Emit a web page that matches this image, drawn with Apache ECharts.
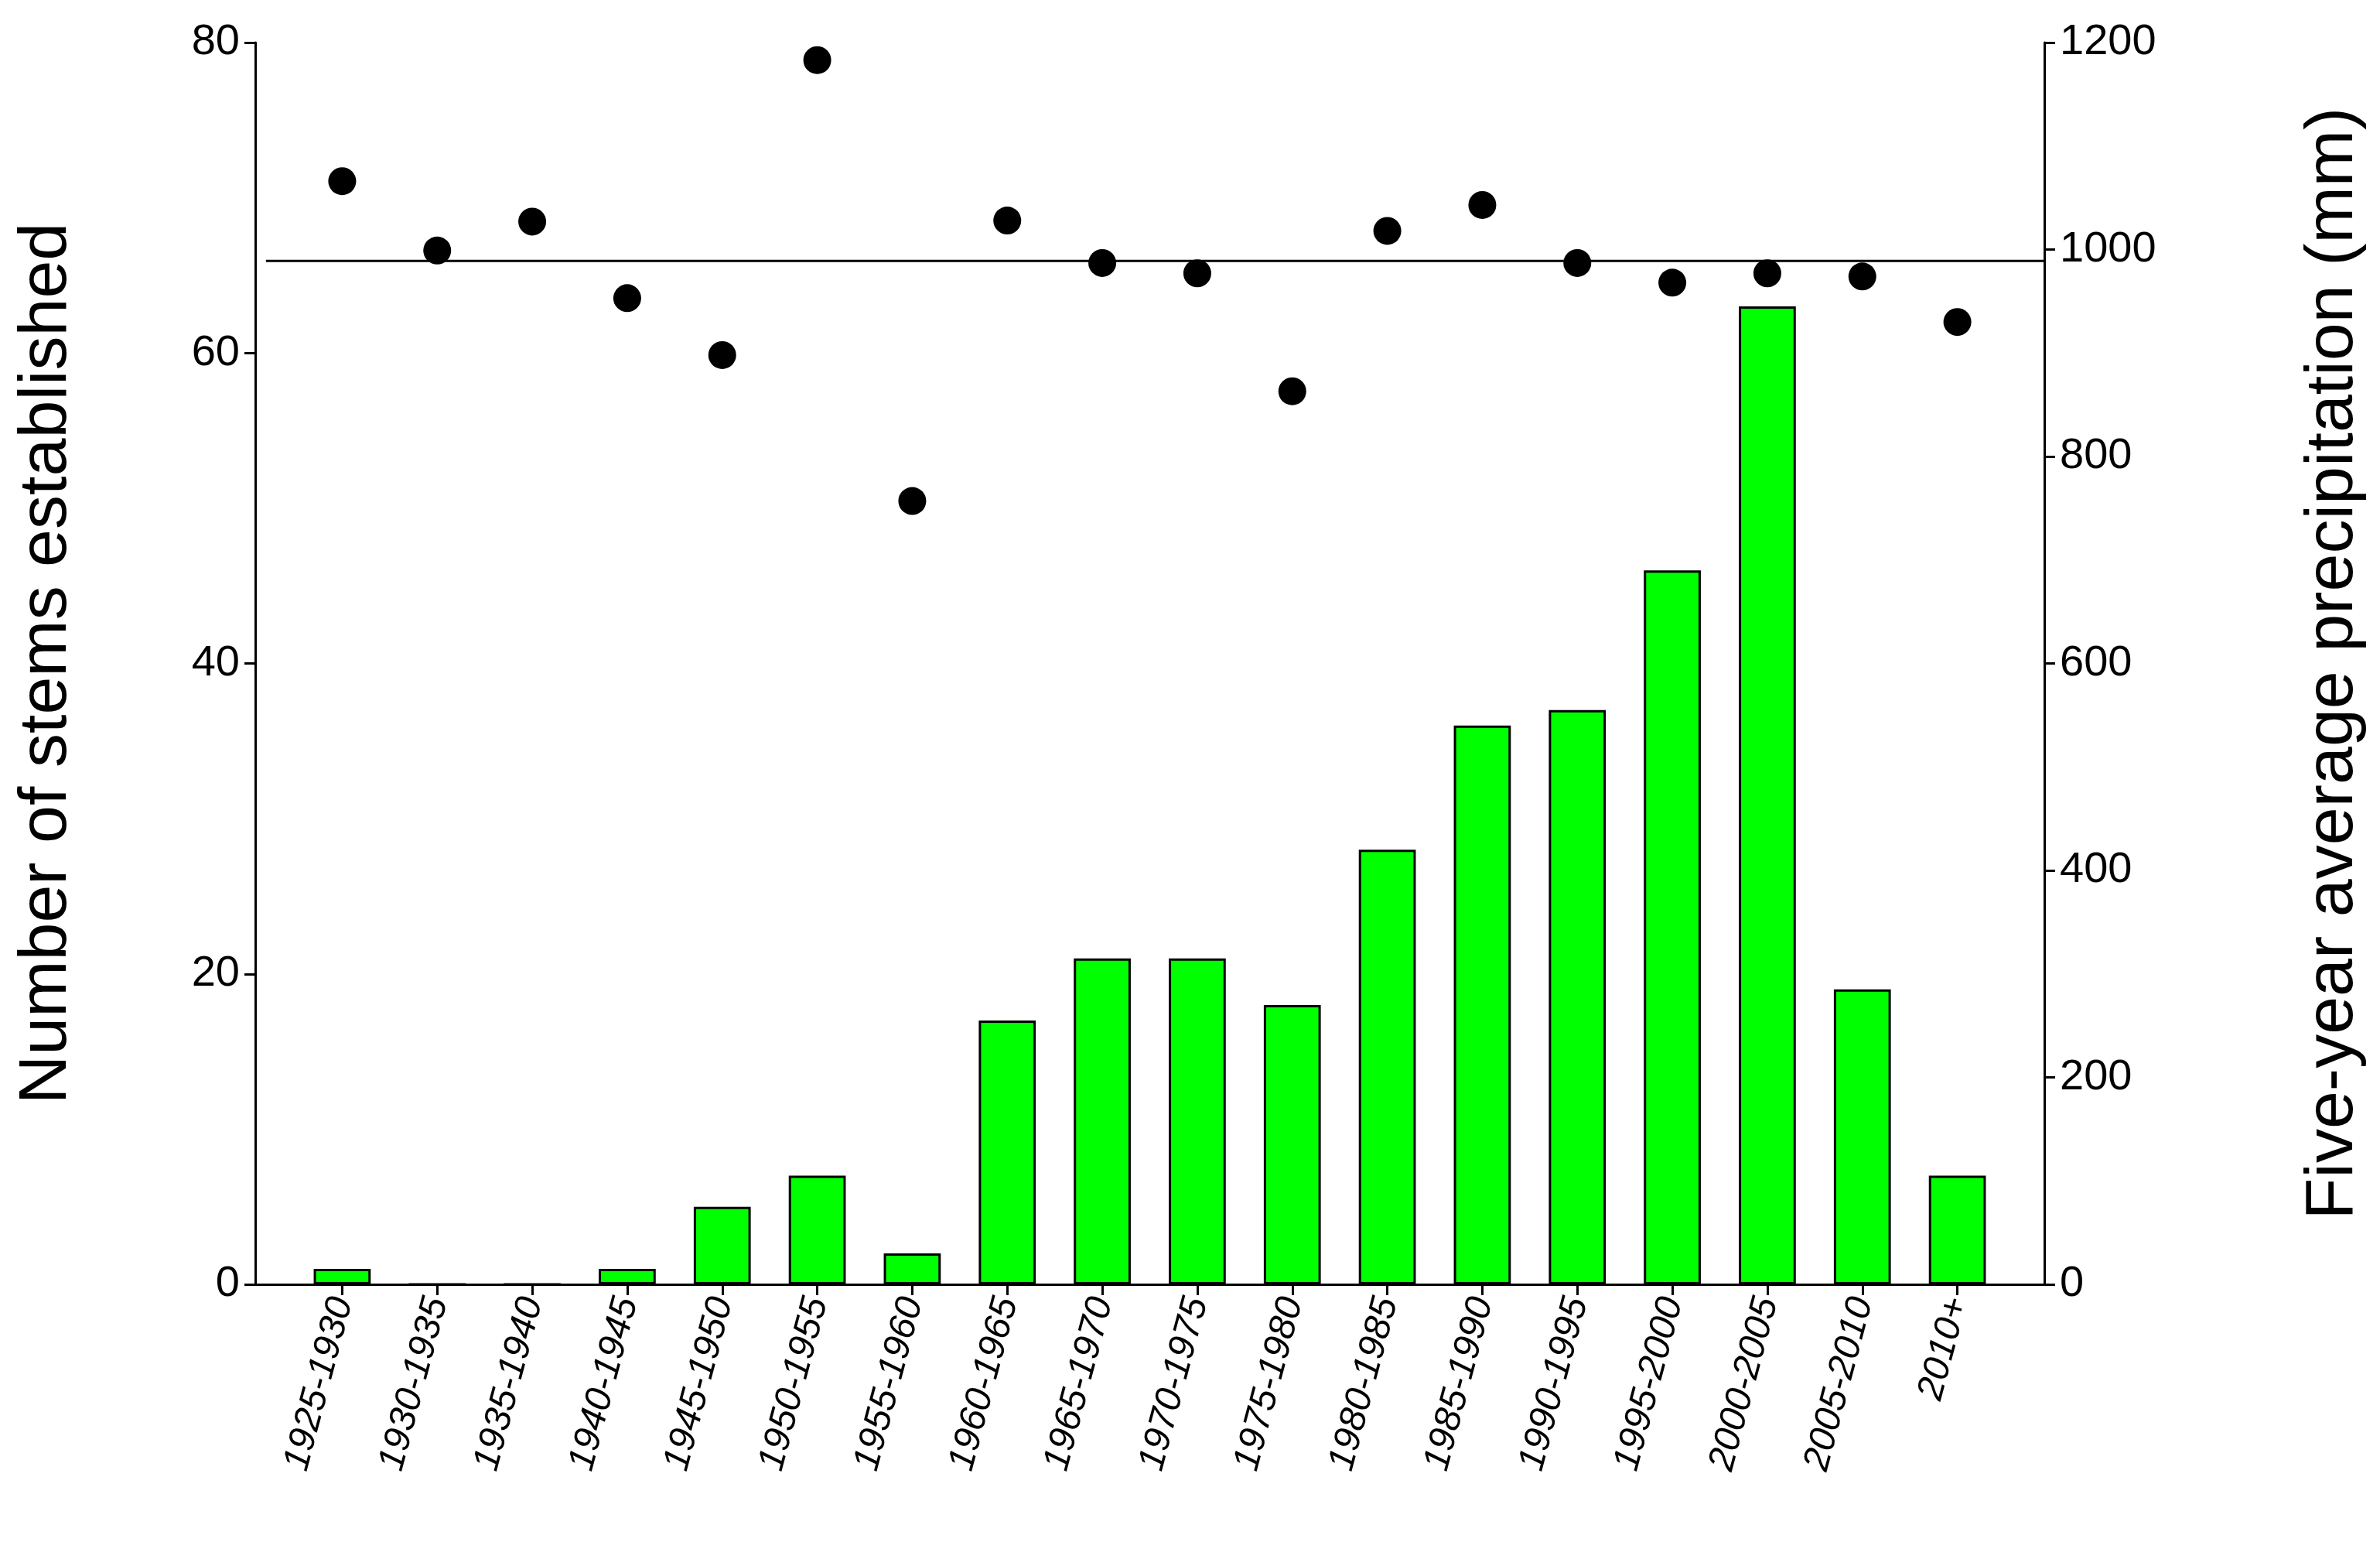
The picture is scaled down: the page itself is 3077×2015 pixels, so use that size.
<!DOCTYPE html>
<html><head><meta charset="utf-8">
<script src="https://cdn.jsdelivr.net/npm/echarts@6/dist/echarts.min.js"></script>
<style>html,body{margin:0;padding:0;background:#fff}#c{width:3077px;height:2015px}</style>
</head><body><div id="c"></div>
<script>
const categories = ['1925-1930','1930-1935','1935-1940','1940-1945','1945-1950','1950-1955','1955-1960','1960-1965','1965-1970','1970-1975','1975-1980','1980-1985','1985-1990','1990-1995','1995-2000','2000-2005','2005-2010','2010+'];
const stems = [1,0,0,1,5,7,2,17,21,21,18,28,36,37,46,63,19,7];
const precipitation = [1066,999,1027,953,898,1183,757,1028,987,977,863,1018,1043,987,968,977,974,930];
const meanPrecip = 989;
const font = 'Liberation Sans';
const ax = {color:'#000',width:3};
const chart = echarts.init(document.getElementById('c'));
chart.setOption({
  animation:false,
  grid:[{left:330,right:434,top:55,bottom:355},{left:381,right:485,top:55,bottom:355}],
  xAxis:[
    {type:'value',gridIndex:0,min:0,max:1,axisLine:{show:true,lineStyle:ax,onZero:false},axisTick:{show:false},axisLabel:{show:false},splitLine:{show:false}},
    {type:'category',gridIndex:1,data:categories,axisLine:{show:false},
     axisTick:{show:true,alignWithLabel:true,length:14,lineStyle:ax},
     axisLabel:{rotate:75,fontFamily:font,fontSize:48,fontStyle:'italic',color:'#000',margin:18}}
  ],
  yAxis:[
    {type:'value',gridIndex:0,min:0,max:80,interval:20,name:'Number of stems established',nameLocation:'middle',nameGap:225,
     nameTextStyle:{fontFamily:font,fontSize:88,color:'#000'},
     axisLine:{show:true,lineStyle:ax},axisTick:{show:true,length:14,lineStyle:ax},
     axisLabel:{fontFamily:font,fontSize:56,color:'#000',margin:20},splitLine:{show:false}},
    {type:'value',gridIndex:0,min:0,max:1200,interval:200,position:'right',name:'Five-year average precipitation (mm)',nameLocation:'middle',nameGap:330,nameRotate:90,
     nameTextStyle:{fontFamily:font,fontSize:88,color:'#000'},
     axisLine:{show:true,lineStyle:ax},axisTick:{show:true,length:14,lineStyle:ax},
     axisLabel:{fontFamily:font,fontSize:56,color:'#000',margin:20,formatter:v=>String(v)},splitLine:{show:false}},
    {type:'value',gridIndex:1,min:0,max:80,show:false},
    {type:'value',gridIndex:1,min:0,max:1200,show:false}
  ],
  series:[
    {type:'line',xAxisIndex:0,yAxisIndex:1,data:[[0.006,meanPrecip],[1.005,meanPrecip]],symbol:'none',lineStyle:{color:'#000',width:3},z:1},
    {type:'bar',xAxisIndex:1,yAxisIndex:2,data:stems,barWidth:'60%',itemStyle:{color:'#00ff00',borderColor:'#000',borderWidth:3}},
    {type:'scatter',xAxisIndex:1,yAxisIndex:3,data:precipitation,symbolSize:36,itemStyle:{color:'#000',opacity:1},z:5}
  ]
});
</script></body></html>
